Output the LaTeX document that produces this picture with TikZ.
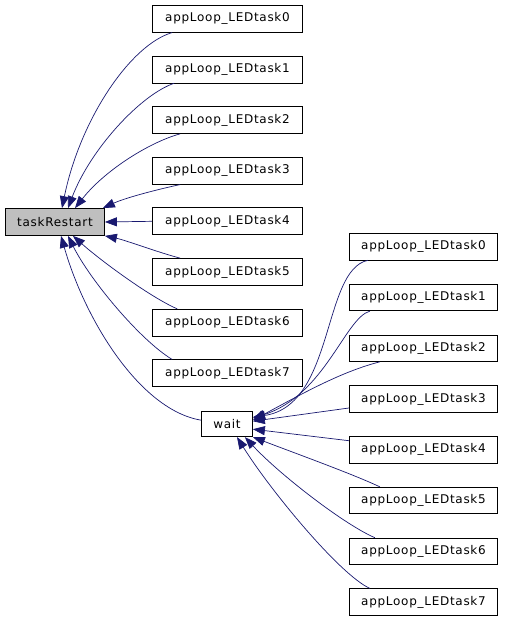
\documentclass[tikz,border=0pt]{standalone}
\usepackage{fontspec}
\setmainfont{DejaVu Sans}[LetterSpace=6]
\usetikzlibrary{arrows.meta}
\definecolor{callblue}{HTML}{191970}
\definecolor{hlgray}{HTML}{BFBFBF}

\begin{document}
\begin{tikzpicture}[
        % Coordinate in pixel, asse y verso il basso
        x=1pt, y=-1pt,
        % Stili dei nodi (funzioni) e degli archi (chiamate)
        fn/.style={draw, line width=0.75pt, inner sep=0pt, minimum height=27pt,
                   font=\fontsize{12}{14}\selectfont},
        lfn/.style={fn, minimum width=150pt},
        rfn/.style={fn, minimum width=148.5pt, minimum height=26.5pt},
        hl/.style={fn, fill=hlgray, minimum width=99pt},
        call/.style={draw=callblue, line width=0.7pt, -{Triangle[length=12pt,width=9pt]}}
    ]

    \useasboundingbox (0,0) rectangle (504,620);

    % ==============================
    % 1. FUNZIONE CHIAMATA
    % ==============================
    \node[hl] (tr) at (55,222) {taskRestart};
    \node[fn, minimum width=51pt, minimum height=25pt] (wt) at (227,424.2) {wait};

    % ==============================
    % 2. CHIAMANTI DI taskRestart
    % ==============================
    \node[lfn] (l0) at (227.5,18.7) {appLoop\_LEDtask0};
    \node[lfn] (l1) at (227.5,69.4) {appLoop\_LEDtask1};
    \node[lfn] (l2) at (227.5,120) {appLoop\_LEDtask2};
    \node[lfn] (l3) at (227.5,170.7) {appLoop\_LEDtask3};
    \node[lfn] (l4) at (227.5,221.3) {appLoop\_LEDtask4};
    \node[lfn] (l5) at (227.5,272) {appLoop\_LEDtask5};
    \node[lfn] (l6) at (227.5,322.7) {appLoop\_LEDtask6};
    \node[lfn] (l7) at (227.5,373.3) {appLoop\_LEDtask7};

    % ==============================
    % 3. CHIAMANTI DI wait
    % ==============================
    \node[rfn] (r0) at (423.5,246.7) {appLoop\_LEDtask0};
    \node[rfn] (r1) at (423.5,297.5) {appLoop\_LEDtask1};
    \node[rfn] (r2) at (423.5,348.2) {appLoop\_LEDtask2};
    \node[rfn] (r3) at (423.5,399) {appLoop\_LEDtask3};
    \node[rfn] (r4) at (423.5,449.7) {appLoop\_LEDtask4};
    \node[rfn] (r5) at (423.5,500.5) {appLoop\_LEDtask5};
    \node[rfn] (r6) at (423.5,551.3) {appLoop\_LEDtask6};
    \node[rfn] (r7) at (423.5,602) {appLoop\_LEDtask7};

    % Archi verso taskRestart
    \draw[call] ([xshift=20pt]l0.south west) .. controls (130,45) and (80,120) .. ([xshift=7pt]tr.north);
    \draw[call] ([xshift=22pt]l1.south west) .. controls (140,95) and (90,150) .. ([xshift=13pt]tr.north);
    \draw[call] ([xshift=28pt]l2.south west) .. controls (150,142) and (105,170) .. ([xshift=20pt]tr.north);
    \draw[call] ([xshift=28pt]l3.south west) .. controls (155,190) and (125,198) .. ([xshift=-2pt]tr.north east);
    \draw[call] (l4.west) -- (tr.east);
    \draw[call] ([xshift=28pt]l5.north west) .. controls (160,253) and (125,240) .. (tr.south east);
    \draw[call] ([xshift=25pt]l6.north west) .. controls (150,297) and (100,260) .. ([xshift=18pt]tr.south);
    \draw[call] ([xshift=20pt]l7.north west) .. controls (140,340) and (90,280) .. ([xshift=13pt]tr.south);
    \draw[call] ([yshift=4pt]wt.west) .. controls (140,410) and (85,320) .. ([xshift=6pt]tr.south);

    % Archi verso wait
    \draw[call] ([xshift=19pt]r0.south west) .. controls (322,270) and (335,405) .. ([yshift=7pt]wt.east);
    \draw[call] ([xshift=21pt]r1.south west) .. controls (345,318) and (325,395) .. ([yshift=6pt]wt.east);
    \draw[call] ([xshift=31pt]r2.south west) .. controls (340,372) and (300,395) .. ([yshift=4pt]wt.east);
    \draw[call] ([yshift=-9pt]r3.west) -- ([yshift=3pt]wt.east);
    \draw[call] ([yshift=9pt]r4.west) -- ([yshift=-5pt]wt.east);
    \draw[call] ([xshift=31pt]r5.north west) .. controls (355,475) and (300,455) .. (wt.south east);
    \draw[call] ([xshift=26pt]r6.north west) .. controls (345,525) and (280,475) .. ([xshift=-8pt]wt.south east);
    \draw[call] ([xshift=21pt]r7.north west) .. controls (340,575) and (270,490) .. ([xshift=10pt]wt.south);

\end{tikzpicture}
\end{document}
